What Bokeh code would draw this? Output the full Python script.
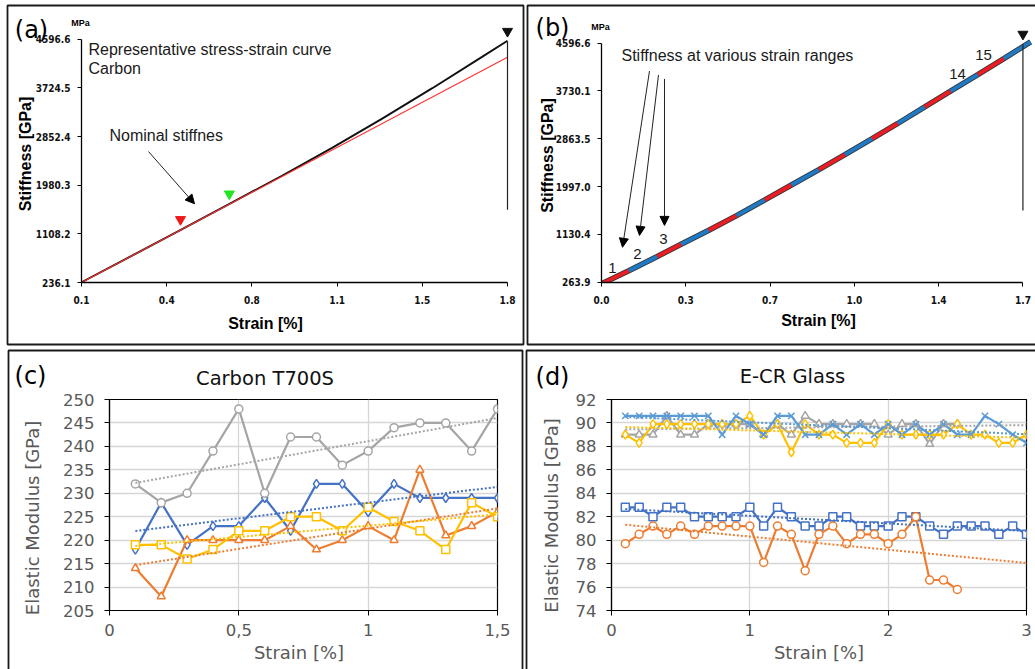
import numpy as np
from bokeh.plotting import figure
from bokeh.layouts import column, row
from bokeh.models import (Range1d, FixedTicker, NumeralTickFormatter, Label, Arrow,
                          NormalHead)
from bokeh.embed import file_html
from bokeh.resources import INLINE

# ---------------- data: panel (a) ----------------
a_strain = [0.1, 0.3, 0.5, 0.7, 0.9, 1.1, 1.3, 1.5, 1.7, 1.8]
a_stress = [240, 712, 1190, 1668, 2150, 2650, 3175, 3720, 4285, 4570]
a_nominal_strain = [0.1, 1.8]
a_nominal_stress = [236.1, 4275]
a_xticks = [0.1, 0.44, 0.78, 1.12, 1.46, 1.8]
a_yticks = [236.1, 1108.2, 1980.3, 2852.4, 3724.5, 4596.6]
a_marker_strain = [0.495, 0.69, 1.8]
a_marker_stress = [1366, 1825, 4740]
a_marker_colors = ["#f01818", "#22e622", "#111111"]
a_failure_strain = [1.8]
a_failure_low = [1542]
a_failure_high = [4560]

# ---------------- data: panel (b) ----------------
b_bounds = [0.0, 0.110, 0.225, 0.321, 0.433, 0.545, 0.659, 0.766, 0.877, 0.982,
            1.092, 1.195, 1.304, 1.408, 1.518, 1.623, 1.731]
b_stress = [235, 470, 730, 950, 1205, 1470, 1755, 2025, 2305, 2575,
            2865, 3140, 3440, 3725, 4025, 4315, 4620]
b_xticks = [0.0, 0.34, 0.68, 1.02, 1.36, 1.70]
b_yticks = [263.9, 1130.4, 1997.0, 2863.5, 3730.1, 4596.6]
b_marker_strain = [1.7]
b_marker_stress = [4759]
b_failure_strain = [1.7]
b_failure_low = [1564]
b_failure_high = [4578]

# ---------------- data: panel (c) Carbon T700S ----------------
c_strain = [0.1, 0.2, 0.3, 0.4, 0.5, 0.6, 0.7, 0.8, 0.9, 1.0, 1.1, 1.2, 1.3, 1.4, 1.5]
c_blue = [218, 228, 219, 223, 223, 229, 222, 232, 232, 226, 232, 229, 229, 229, 229]
c_orange = [214, 208, 220, 220, 220, 220, 223, 218, 220, 223, 220, 235, 221, 223, 226]
c_gray = [232, 228, 230, 239, 248, 230, 242, 242, 236, 239, 244, 245, 245, 239, 248]
c_yellow = [219, 219, 216, 218, 222, 222, 225, 225, 222, 227, 224, 222, 218, 228, 225]
c_xticks = [0, 0.5, 1, 1.5]
c_xtick_labels = ["0", "0,5", "1", "1,5"]
c_yticks = [205, 210, 215, 220, 225, 230, 235, 240, 245, 250]

# ---------------- data: panel (d) E-CR Glass ----------------
d_strain = [0.1, 0.2, 0.3, 0.4, 0.5, 0.6, 0.7, 0.8, 0.9, 1.0,
            1.1, 1.2, 1.3, 1.4, 1.5, 1.6, 1.7, 1.8, 1.9, 2.0,
            2.1, 2.2, 2.3, 2.4, 2.5, 2.6, 2.7, 2.8, 2.9, 3.0]
d_blue_sq = [82.8, 82.8, 82.0, 82.8, 82.8, 82.0, 82.0, 82.0, 82.0, 82.8,
             81.2, 82.8, 82.0, 81.2, 81.2, 82.0, 82.0, 81.2, 81.2, 81.2,
             82.0, 82.0, 81.2, 80.5, 81.2, 81.2, 81.2, 80.5, 81.2, 80.5]
d_orange = [79.7, 80.5, 81.2, 80.5, 81.2, 80.5, 81.2, 81.2, 81.2, 81.2,
            78.1, 81.2, 80.5, 77.4, 80.5, 81.2, 79.7, 80.5, 80.5, 79.7,
            80.5, 82.0, 76.6, 76.6, 75.8]
d_gray = [89.0, 89.0, 89.0, 90.6, 89.0, 89.0, 89.9, 89.9, 89.9, 89.9,
          89.0, 89.9, 89.0, 90.6, 89.9, 89.9, 89.9, 89.9, 89.9, 89.0,
          89.9, 89.9, 88.2, 89.9, 89.9]
d_yellow = [89.0, 88.3, 89.9, 89.9, 89.9, 89.9, 89.9, 89.9, 89.9, 90.6,
            89.0, 89.9, 87.5, 89.9, 89.0, 89.0, 88.3, 88.3, 88.3, 89.9,
            89.0, 89.0, 89.0, 89.0, 89.9, 89.0, 89.0, 88.3, 88.3, 89.0]
d_lightblue = [90.6, 90.6, 90.6, 90.6, 90.6, 90.6, 90.6, 89.0, 90.6, 89.9,
               89.0, 90.6, 90.6, 89.0, 89.0, 89.9, 89.0, 89.9, 89.0, 89.9,
               89.0, 89.9, 89.0, 89.9, 89.0, 89.0, 90.6, 89.9, 89.0, 88.3]
d_xticks = [0, 1, 2, 3]
d_yticks = [74, 76, 78, 80, 82, 84, 86, 88, 90, 92]

# ---------------- styles ----------------
BLUE, ORANGE, GRAY, YELLOW, LBLUE = "#4472C4", "#ED7D31", "#A5A5A5", "#FFC000", "#5B9BD5"
TICK_AB = "'Liberation Sans Narrow', 'DejaVu Sans Condensed', 'Arial Narrow', sans-serif"
SANS = "'Liberation Sans', Arial, sans-serif"
VERA = "'DejaVu Sans', Verdana, sans-serif"
BOX = "#1a1a1a"


def txt(p, x, y, text, size, font=SANS, style="normal", color="black",
        align="left", baseline="middle", angle=0.0):
    p.add_layout(Label(x=x, y=y, text=text, text_font=font, text_font_size=size,
                       text_font_style=style, text_color=color, text_align=align,
                       text_baseline=baseline, angle=angle))


def style_ab(p, xticks, yticks, xb, yb):
    p.xaxis.ticker = FixedTicker(ticks=xticks)
    p.yaxis.ticker = FixedTicker(ticks=yticks)
    p.xaxis.formatter = NumeralTickFormatter(format="0.0")
    p.yaxis.formatter = NumeralTickFormatter(format="0.0")
    p.xaxis.bounds = xb
    p.yaxis.bounds = yb
    for ax in (p.xaxis[0], p.yaxis[0]):
        ax.axis_line_color = "black"
        ax.axis_line_width = 1.3
        ax.major_tick_line_color = "black"
        ax.major_tick_out = 4
        ax.major_tick_in = 0
        ax.minor_tick_line_color = None
        ax.major_label_text_font = TICK_AB
        ax.major_label_text_font_size = "10px"
        ax.major_label_text_font_style = "bold"
        ax.major_label_text_color = "#111111"
    p.xaxis.major_label_standoff = 9
    p.yaxis.major_label_standoff = 7
    p.xgrid.visible = False
    p.ygrid.visible = False
    p.outline_line_color = None


def style_cd(p, xticks, yticks, overrides=None):
    p.xaxis.ticker = FixedTicker(ticks=xticks)
    p.yaxis.ticker = FixedTicker(ticks=yticks)
    if overrides:
        p.xaxis.major_label_overrides = overrides
    p.outline_line_color = "black"
    p.outline_line_width = 1.2
    p.xgrid.grid_line_color = "#d6d6d6"
    p.ygrid.grid_line_color = "#d6d6d6"
    p.xgrid.grid_line_width = 1.3
    p.ygrid.grid_line_width = 1.3
    for ax in (p.xaxis[0], p.yaxis[0]):
        ax.axis_line_color = "black"
        ax.axis_line_width = 1.2
        ax.major_tick_line_color = "black"
        ax.major_tick_out = 5
        ax.major_tick_in = 0
        ax.minor_tick_line_color = None
        ax.major_label_text_font = VERA
        ax.major_label_text_font_size = "16.5px"
        ax.major_label_text_color = "#595959"
    p.xaxis.major_label_standoff = 8
    p.yaxis.major_label_standoff = 10


def series(p, xs, ys, color, marker, size=8):
    p.line(xs, ys, line_color=color, line_width=2.2)
    p.scatter(xs, ys, marker=marker, size=size, line_color=color, line_width=1.5,
              fill_color="white")


def trend(p, xs, ys, color, x0, x1):
    k, b = np.polyfit(np.asarray(xs[:len(ys)], float), np.asarray(ys, float), 1)
    p.line([x0, x1], [k * x0 + b, k * x1 + b], line_color=color, line_width=2,
           line_dash="2 2")


def make_fig(w, h, xr, yr, left, right, top, bottom):
    return figure(width=w, height=h, output_backend="svg", toolbar_location=None,
                  x_range=Range1d(*xr), y_range=Range1d(*yr),
                  min_border_left=left, min_border_right=right,
                  min_border_top=top, min_border_bottom=bottom,
                  background_fill_color="white", border_fill_color="white")


# ================= panel (a) =================
pa = make_fig(525, 347, (0.1, 0.1 + 434 / 250.59), (236.1, 236.1 + 261 * 17.654), 81, 10, 25, 61)
style_ab(pa, a_xticks, a_yticks, (0.1, 1.8), (236.1, 4596.6))
pa.line(a_strain, a_stress, line_color="#111111", line_width=1.9)
pa.line(a_nominal_strain, a_nominal_stress, line_color="#ff3030", line_width=1.1)
pa.segment(x0=a_failure_strain, y0=a_failure_low, x1=a_failure_strain, y1=a_failure_high,
           line_color="#222222", line_width=1.2)
pa.scatter(a_marker_strain, a_marker_stress, marker="inverted_triangle", size=10,
           fill_color=a_marker_colors, line_color=a_marker_colors)
txt(pa, 0.128, 4420, "Representative stress-strain curve", "16px", color="#1a1a1a")
txt(pa, 0.128, 4067, "Carbon", "16px", color="#1a1a1a")
txt(pa, 0.2117, 2866, "Nominal stiffnes", "16px", color="#1a1a1a")
pa.add_layout(Arrow(end=NormalHead(size=9, fill_color="black", line_color="black"),
                    x_start=0.3674, y_start=2584, x_end=0.5509, y_end=1648,
                    line_color="#222222", line_width=1))

# ================= panel (b) =================
pb = make_fig(510, 347, (0.0, 434 / 247.9), (258.0, 258.0 + 258 * 18.053), 76, 0, 24, 65)
style_ab(pb, b_xticks, b_yticks, (0.0, 1.7), (263.9, 4596.6))
pb.line(b_bounds, b_stress, line_color="#111111", line_width=5.5, line_alpha=0.85)
seg_colors = ["#ec1c24" if i % 2 == 0 else "#1f7ac6" for i in range(len(b_bounds) - 1)]
pb.segment(x0=b_bounds[:-1], y0=b_stress[:-1], x1=b_bounds[1:], y1=b_stress[1:],
           line_color=seg_colors, line_width=3.8)
pb.segment(x0=b_failure_strain, y0=b_failure_low, x1=b_failure_strain, y1=b_failure_high,
           line_color="#222222", line_width=1.2)
pb.scatter(b_marker_strain, b_marker_stress, marker="inverted_triangle", size=10,
           fill_color="#111111", line_color="#111111")
txt(pb, 0.0807, 4380, "Stiffness at various strain ranges", "16px", color="#1a1a1a")
for (xs, ys, xe, ye) in [(0.1936, 4091, 0.0847, 896), (0.2299, 4019, 0.1533, 1112),
                         (0.2541, 3947, 0.2541, 1293)]:
    pb.add_layout(Arrow(end=NormalHead(size=9, fill_color="black", line_color="black"),
                        x_start=xs, y_start=ys, x_end=xe, y_end=ye,
                        line_color="#222222", line_width=1))
for (lx, ly, t) in [(0.0444, 517, "1"), (0.1452, 769, "2"), (0.2501, 1040, "3"),
                    (1.436, 4037, "14"), (1.541, 4380, "15")]:
    txt(pb, lx, ly, t, "15px", align="center", color="#1a1a1a")

# ================= panel (c) =================
pc = make_fig(525, 322, (0, 1.5), (205, 250), 109, 28, 52, 56)
style_cd(pc, c_xticks, c_yticks, dict(zip(c_xticks, c_xtick_labels)))
series(pc, c_strain, c_blue, BLUE, "diamond", 9)
series(pc, c_strain, c_orange, ORANGE, "triangle", 8)
series(pc, c_strain, c_gray, GRAY, "circle", 8)
series(pc, c_strain, c_yellow, YELLOW, "square", 8)
for ys, col in [(c_blue, BLUE), (c_orange, ORANGE), (c_gray, GRAY), (c_yellow, YELLOW)]:
    trend(pc, c_strain, ys, col, c_strain[0], c_strain[-1])

# ================= panel (d) =================
pd_ = make_fig(510, 322, (0, 3), (74, 92), 86, 9, 51, 59)
style_cd(pd_, d_xticks, d_yticks)
series(pd_, d_strain, d_blue_sq, BLUE, "square", 8)
series(pd_, d_strain[:len(d_orange)], d_orange, ORANGE, "circle", 8)
series(pd_, d_strain[:len(d_gray)], d_gray, GRAY, "triangle", 8)
series(pd_, d_strain, d_yellow, YELLOW, "diamond", 9)
series(pd_, d_strain, d_lightblue, LBLUE, "x", 9)
for ys, col in [(d_blue_sq, BLUE), (d_orange, ORANGE), (d_gray, GRAY),
                (d_yellow, YELLOW), (d_lightblue, LBLUE)]:
    trend(pd_, d_strain, ys, col, d_strain[0], d_strain[-1])

panels = column(row(pa, pb), row(pc, pd_))

# ================= page overlay: panel frames and outer texts (page pixels) =================
ov = figure(width=1035, height=669, output_backend="svg", toolbar_location=None,
            x_range=Range1d(0, 1035), y_range=Range1d(669, 0),
            x_axis_location=None, y_axis_location=None, min_border=0,
            background_fill_color=None, border_fill_color=None, outline_line_color=None,
            margin=(-669, 0, 0, 0))
ov.grid.visible = False
box_left = [7, 527, 8, 526]
box_right = [523, 1045, 522, 1045]
box_top = [5, 5, 350, 350]
box_bottom = [344, 344, 680, 680]
ov.quad(left=box_left, right=box_right, top=box_top, bottom=box_bottom,
        fill_color=None, line_color=BOX, line_width=1.8)

for (x, y, t) in [(31, 29, "(a)"), (552, 27.5, "(b)"), (30, 375, "(c)"), (552, 376, "(d)")]:
    txt(ov, x, y, t, "24px", font=VERA, align="center")
for (x, y) in [(80, 22), (600, 26)]:
    txt(ov, x, y, "MPa", "9px", style="bold", align="center")
txt(ov, 265, 323, "Strain [%]", "16px", style="bold", align="center")
txt(ov, 818, 320, "Strain [%]", "16px", style="bold", align="center")
txt(ov, 24.5, 153.5, "Stiffness [GPa]", "16px", style="bold", align="center", angle=np.pi / 2)
txt(ov, 546.7, 155, "Stiffness [GPa]", "16px", style="bold", align="center", angle=np.pi / 2)
txt(ov, 264.5, 377.5, "Carbon T700S", "19.5px", font=VERA, align="center", color="#111111")
txt(ov, 792, 376, "E-CR Glass", "19.5px", font=VERA, align="center", color="#111111")
txt(ov, 31.7, 517.5, "Elastic Modulus [GPa]", "18px", font=VERA, align="center",
    color="#595959", angle=np.pi / 2)
txt(ov, 550.5, 515, "Elastic Modulus [GPa]", "18px", font=VERA, align="center",
    color="#595959", angle=np.pi / 2)
txt(ov, 298.5, 651.5, "Strain [%]", "18px", font=VERA, align="center", color="#595959")
txt(ov, 818.5, 651.5, "Strain [%]", "18px", font=VERA, align="center", color="#595959")

layout = column(panels, ov)
open("out.html", "w").write(file_html(layout, INLINE))
